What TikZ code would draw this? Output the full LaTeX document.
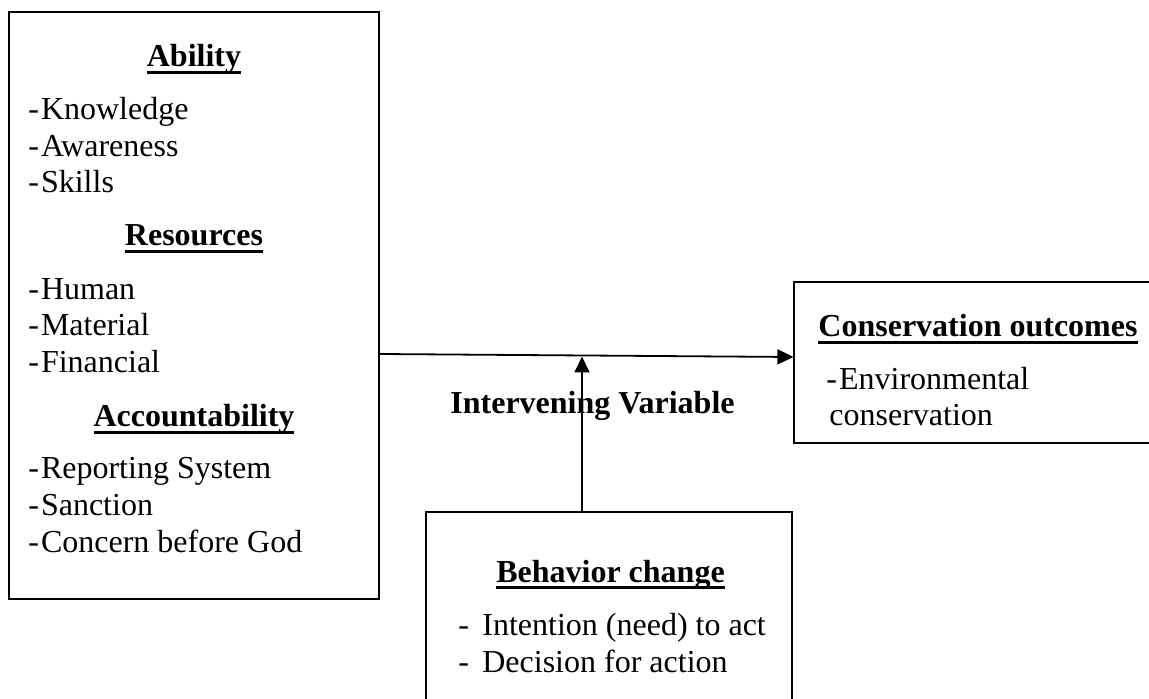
\documentclass[tikz,border=0pt]{standalone}
\usepackage{fontspec}
\setmainfont{Liberation Serif}
\usetikzlibrary{arrows.meta}
\newsavebox\hdbox
\newcommand\hdul[1]{\sbox\hdbox{\bfseries #1}\rlap{\rule[-3.5pt]{\wd\hdbox}{1.7pt}}\usebox\hdbox}
\newcommand\dsh{-\kern1pt}
\begin{document}
\begin{tikzpicture}[x=0.5pt,y=-0.5pt,
  box/.style={draw, line width=0.6pt, inner sep=0pt, rectangle},
  txt/.style={inner sep=0pt, anchor=base west, font=\fontsize{16}{18}\selectfont},
  hd/.style={inner sep=0pt, anchor=base, font=\fontsize{16}{18}\selectfont},
  arr/.style={-{Triangle[length=8pt,width=7.5pt]}, line width=0.9pt}]
\useasboundingbox (0,0) rectangle (1149,699);
\clip (0,0) rectangle (1149,699);

% boxes
\node[box, minimum width=185pt, minimum height=293.5pt] (L) at (194,305.5) {};
\node[box, minimum width=183pt, minimum height=80.5pt] (R) at (977,362.5) {};
\node[box, minimum width=183pt, minimum height=109pt] (B) at (609,621) {};

% left box text
\node[hd] (hAbility) at (194,67) {\hdul{Ability}};
\node[txt] (t1) at (28,120) {\dsh Knowledge};
\node[txt] (t2) at (28,157) {\dsh Awareness};
\node[txt] (t3) at (28,193) {\dsh Skills};
\node[hd] (hRes) at (194,246) {\hdul{Resources}};
\node[txt] (t4) at (28,300) {\dsh Human};
\node[txt] (t5) at (28,336) {\dsh Material};
\node[txt] (t6) at (28,372.5) {\dsh Financial};
\node[hd] (hAcc) at (194,427) {\hdul{Accountability}};
\node[txt] (t7) at (28,478) {\dsh Reporting System};
\node[txt] (t8) at (28,515) {\dsh Sanction};
\node[txt] (t9) at (28,552) {\dsh Concern before God};

% right box text
\node[hd] (hCons) at (978,337) {\hdul{Conservation outcomes}};
\node[txt] (r1) at (826,390) {\dsh Environmental};
\node[txt] (r2) at (829,425) {conservation};

% bottom box text
\node[hd] (hBeh) at (610.5,582) {\hdul{Behavior change}};
\node[txt] (b1) at (458,635) {\makebox[12pt][l]{-}Intention (need) to act};
\node[txt] (b2) at (458,672) {\makebox[12pt][l]{-}Decision for action};

% intervening label
\node[hd] (iv) at (592.5,414) {\bfseries Intervening Variable};

% connectors
\draw[arr] ([yshift=-24.25pt]L.east) -- ([yshift=2.75pt]R.west);
\coordinate (J) at (582,356.5);
\draw[arr] (B.north -| J) -- (J);
\end{tikzpicture}
\end{document}
